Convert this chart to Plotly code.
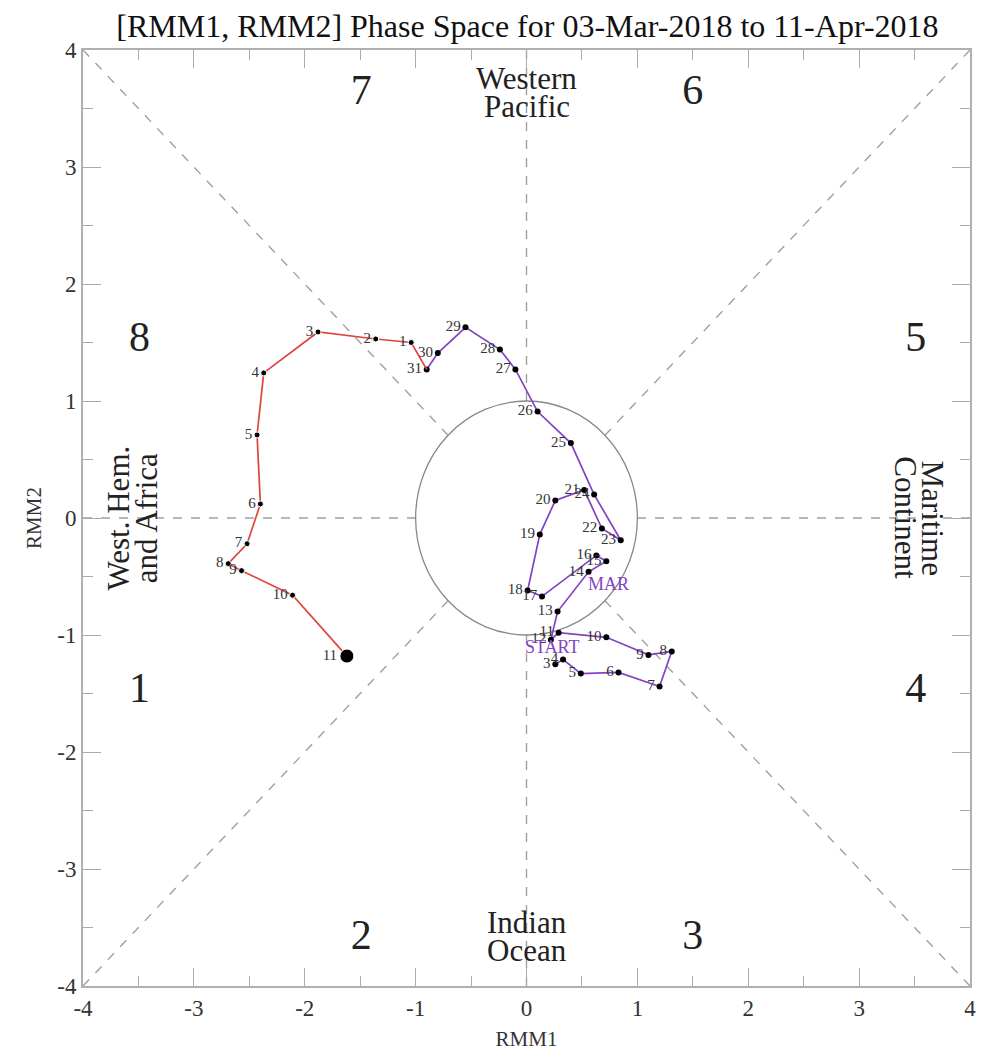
import plotly.graph_objects as go
import numpy as np

# March 2018 (from 3rd)
mar_days = list(range(3, 32))
mar_rmm1 = [0.26, 0.33, 0.49, 0.83, 1.20, 1.31, 1.10, 0.72, 0.29, 0.22, 0.28, 0.56, 0.72, 0.63,
            0.14, 0.01, 0.12, 0.26, 0.52, 0.68, 0.85, 0.61, 0.40, 0.10, -0.10, -0.24, -0.55, -0.80, -0.90]
mar_rmm2 = [-1.25, -1.21, -1.33, -1.32, -1.44, -1.14, -1.17, -1.02, -0.98, -1.04, -0.80, -0.46, -0.37, -0.32,
            -0.67, -0.62, -0.14, 0.15, 0.24, -0.09, -0.19, 0.20, 0.64, 0.91, 1.27, 1.44, 1.63, 1.41, 1.27]
# April 2018
apr_days = list(range(1, 12))
apr_rmm1 = [-1.04, -1.36, -1.88, -2.37, -2.43, -2.40, -2.52, -2.69, -2.57, -2.11, -1.62]
apr_rmm2 = [1.50, 1.53, 1.59, 1.24, 0.71, 0.12, -0.22, -0.39, -0.45, -0.66, -1.18]

phase_nums = ["1", "2", "3", "4", "5", "6", "7", "8"]
phase_x = [-3.49, -1.49, 1.5, 3.51, 3.51, 1.5, -1.49, -3.49]
phase_y = [-1.48, -3.59, -3.59, -1.48, 1.52, 3.63, 3.63, 1.52]

tick_vals = [-4, -3, -2, -1, 0, 1, 2, 3, 4]
tick_text = ["-4", "-3", "-2", "-1", "0", "1", "2", "3", "4"]

PURPLE = "#8442C4"
RED = "#E0443C"
SERIF = "Liberation Serif"
TXT = "#222222"

fig = go.Figure()

# structure: dashed phase dividers and unit circle
grey = "#a0a0a0"
r = 1.0
d = r / np.sqrt(2)
segs = [(-4, 4, -d, d), (4, 4, d, d), (-4, -4, -d, -d), (4, -4, d, -d),
        (0, 4, 0, r), (0, -4, 0, -r), (-4, 0, -r, 0), (4, 0, r, 0)]
for x0, y0, x1, y1 in segs:
    fig.add_shape(type="line", x0=x0, y0=y0, x1=x1, y1=y1,
                  line=dict(color=grey, width=1.4, dash="dash"), layer="below")
fig.add_shape(type="circle", x0=-1, y0=-1, x1=1, y1=1,
              line=dict(color="#888888", width=1.3), layer="below")

# March line
fig.add_trace(go.Scatter(x=mar_rmm1, y=mar_rmm2, mode="lines+markers+text",
                         line=dict(color=PURPLE, width=1.7),
                         marker=dict(color="black", size=6, opacity=1),
                         text=[str(d_) for d_ in mar_days], textposition="middle left",
                         textfont=dict(family=SERIF, size=15, color="#333333"),
                         hoverinfo="skip", showlegend=False))
# April line (connects from 31 Mar)
fig.add_trace(go.Scatter(x=[mar_rmm1[-1]] + apr_rmm1, y=[mar_rmm2[-1]] + apr_rmm2, mode="lines",
                         line=dict(color=RED, width=1.7), hoverinfo="skip", showlegend=False))
fig.add_trace(go.Scatter(x=apr_rmm1, y=apr_rmm2, mode="markers+text",
                         marker=dict(color="black", opacity=1,
                                     size=[6] * (len(apr_days) - 1) + [14]),
                         text=[str(d_) for d_ in apr_days], textposition="middle left",
                         textfont=dict(family=SERIF, size=15, color="#333333"),
                         hoverinfo="skip", showlegend=False))

# phase numbers
fig.add_trace(go.Scatter(x=phase_x, y=phase_y, mode="text", text=phase_nums,
                         textfont=dict(family=SERIF, size=42, color=TXT),
                         hoverinfo="skip", showlegend=False))

ann_font = dict(family=SERIF, size=31, color=TXT)
region_lines = [("Western", 0, 3.76, 0), ("Pacific", 0, 3.52, 0),
                ("Indian", 0, -3.46, 0), ("Ocean", 0, -3.70, 0),
                ("West. Hem.", -3.68, 0, -90), ("and Africa", -3.43, 0, -90),
                ("Maritime", 3.67, 0, 90), ("Continent", 3.42, 0, 90)]
for txt, ax_, ay_, ang in region_lines:
    fig.add_annotation(x=ax_, y=ay_, text=txt, showarrow=False, font=ann_font, textangle=ang)

fig.add_annotation(x=0.23, y=-1.10, text="START", showarrow=False,
                   font=dict(family=SERIF, size=18, color=PURPLE))
fig.add_annotation(x=0.74, y=-0.56, text="MAR", showarrow=False,
                   font=dict(family=SERIF, size=18, color=PURPLE))

axis_common = dict(range=[-4, 4], tickmode="array", tickvals=tick_vals, ticktext=tick_text,
                   ticks="inside", ticklen=18, tickcolor="#aaaaaa",
                   tickwidth=1.2, showgrid=False, zeroline=False, showline=True, linecolor="#b0b0b0",
                   linewidth=2, mirror="allticks",
                   tickfont=dict(family=SERIF, size=23, color="#333333"),
                   minor=dict(dtick=0.5, tick0=-4, ticks="inside", ticklen=10, tickcolor="#aaaaaa",
                              showgrid=False))
fig.update_xaxes(**axis_common, title=dict(text="RMM1", font=dict(family=SERIF, size=21, color="#333333"),
                                            standoff=12))
fig.update_yaxes(**axis_common, title=dict(text="RMM2", font=dict(family=SERIF, size=21, color="#333333"),
                                            standoff=10))

# page body has an 8px margin: shift the figure's own margins to compensate
fig.update_layout(
    width=980, height=1051,
    margin=dict(l=75, r=16, t=42, b=71),
    paper_bgcolor="white", plot_bgcolor="white",
    title=dict(text="[RMM1, RMM2] Phase Space for 03-Mar-2018 to 11-Apr-2018",
               x=0.53, xanchor="center", y=0.994, yanchor="top",
               font=dict(family=SERIF, size=32, color="#111111")),
)

fig.write_html("out.html")
